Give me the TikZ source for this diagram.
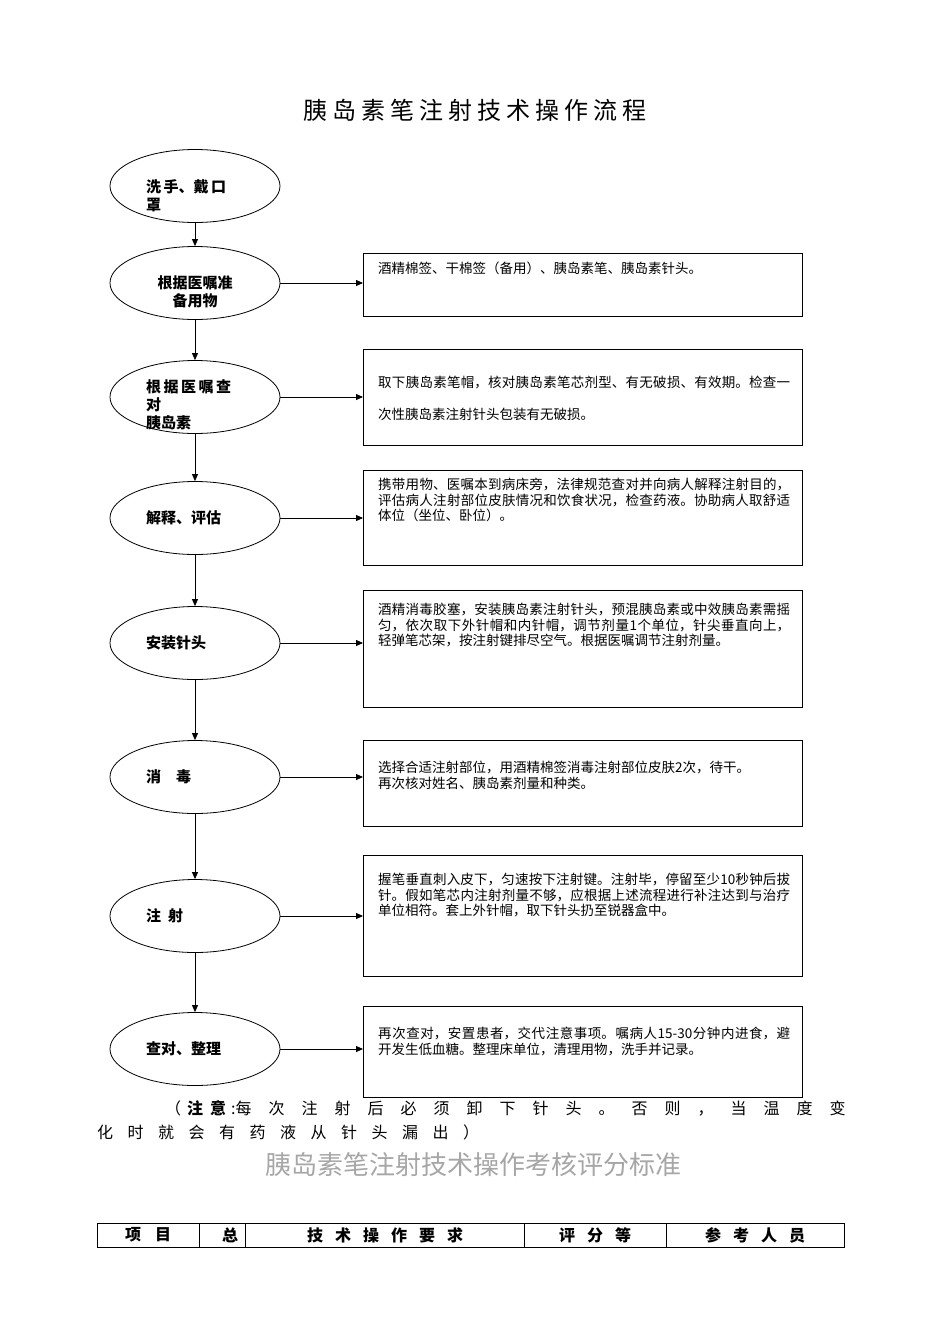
\documentclass[tikz,border=0pt]{standalone}
\usepackage{fontspec}
\setmainfont{Noto Sans CJK SC}
\XeTeXlinebreaklocale "zh"
\XeTeXlinebreakskip=0pt plus 1pt
\newcommand\cjkb{\bfseries}
\newcommand\cjkl{\mdseries}
\usetikzlibrary{arrows.meta,shapes.geometric}
\begin{document}
\begin{tikzpicture}[x=1pt,y=-1pt,
  el/.style={draw,ellipse,minimum width=170pt,minimum height=73pt,line width=0.8pt},
  bx/.style={draw,line width=0.8pt,anchor=north west},
  txt/.style={anchor=north west,align=justify,font=\cjkl\fontsize{13.5}{15.5}\selectfont,text width=412pt,inner sep=0},
  lab/.style={font=\cjkb\fontsize{15}{18}\selectfont,align=left,inner sep=0},
  arr/.style={-{Triangle[length=7pt,width=6pt]},line width=0.8pt}]
\useasboundingbox (0,0) rectangle (950,1344);
\node[font=\fontsize{24}{28}\selectfont] (title) at (475,110) {胰\hspace{5pt}岛\hspace{5pt}素\hspace{5pt}笔\hspace{5pt}注\hspace{5pt}射\hspace{5pt}技\hspace{5pt}术\hspace{5pt}操\hspace{5pt}作\hspace{5pt}流\hspace{5pt}程};
\foreach \n/\y in {1/186,2/283,3/397,4/518,5/643,6/777,7/916,8/1049}{
  \node[el] (e\n) at (195,\y) {};}
\node[lab,anchor=west] at (146,196) {洗\,手、戴\,口\\罩};
\node[lab,align=center] at (195,292) {根据医嘱准\\备用物};
\node[lab,anchor=west] at (146,405) {根\,据\,医\,嘱\,查\\对\\胰岛素};
\node[lab,anchor=west] at (146,518) {解释、评估};
\node[lab,anchor=west] at (146,643) {安装针头};
\node[lab,anchor=west] at (146,777) {消\quad 毒};
\node[lab,anchor=west] at (146,916) {注\ \ 射};
\node[lab,anchor=west] at (146,1049) {查对、整理};
\foreach \a/\b in {1/2,2/3,3/4,4/5,5/6,6/7,7/8}{\draw[arr] (e\a) -- (e\b);}
\foreach \n/\t/\h in {1/253/63,2/349/96,3/470/95,4/590/117,5/740/86,6/855/121,7/1006/91}{
  \node[bx,minimum width=439pt,minimum height=\h pt] (b\n) at (363,\t) {};}
\foreach \e/\b in {2/1,3/2,4/3,5/4,6/5,7/6,8/7}{
  \draw[arr] (e\e.east) -- (e\e.east -| b\b.west);}
\node[txt] at (378,262) {酒精棉签、干棉签（备用）、胰岛素笔、胰岛素针头。};
\node[txt,font=\cjkl\fontsize{13.5}{32}\selectfont] at (378,376) {取下胰岛素笔帽，核对胰岛素笔芯剂型、有无破损、有效期。检查一次性胰岛素注射针头包装有无破损。};
\node[txt] at (378,478) {携带用物、医嘱本到病床旁，法律规范查对并向病人解释注射目的，评估病人注射部位皮肤情况和饮食状况，检查药液。协助病人取舒适体位（坐位、卧位）。};
\node[txt] at (378,603) {酒精消毒胶塞，安装胰岛素注射针头，预混胰岛素或中效胰岛素需摇匀，依次取下外针帽和内针帽，调节剂量1个单位，针尖垂直向上，轻弹笔芯架，按注射键排尽空气。根据医嘱调节注射剂量。};
\node[txt] at (378,761) {选择合适注射部位，用酒精棉签消毒注射部位皮肤2次，待干。\\再次核对姓名、胰岛素剂量和种类。};
\node[txt] at (378,873) {握笔垂直刺入皮下，匀速按下注射键。注射毕，停留至少10秒钟后拔针。假如笔芯内注射剂量不够，应根据上述流程进行补注达到与治疗单位相符。套上外针帽，取下针头扔至锐器盒中。};
\node[txt] at (378,1027) {再次查对，安置患者，交代注意事项。嘱病人15-30分钟内进食，避开发生低血糖。整理床单位，清理用物，洗手并记录。};
\node[anchor=west,inner sep=0,font=\fontsize{16}{18}\selectfont] (n1) at (165,1108) {（\hspace{6pt}{\cjkb 注\hspace{7pt}意}\hspace{5pt}:每\hspace{17pt}次\hspace{17pt}注\hspace{17pt}射\hspace{17pt}后\hspace{17pt}必\hspace{17pt}须\hspace{17pt}卸\hspace{17pt}下\hspace{17pt}针\hspace{17pt}头\hspace{17pt}。\hspace{17pt}否\hspace{17pt}则\hspace{17pt}，\hspace{17pt}当\hspace{17pt}温\hspace{17pt}度\hspace{17pt}变};
\node[anchor=west,inner sep=0,font=\fontsize{16}{18}\selectfont] (n2) at (97,1132) {化\hspace{14.5pt}时\hspace{14.5pt}就\hspace{14.5pt}会\hspace{14.5pt}有\hspace{14.5pt}药\hspace{14.5pt}液\hspace{14.5pt}从\hspace{14.5pt}针\hspace{14.5pt}头\hspace{14.5pt}漏\hspace{14.5pt}出\hspace{14.5pt}）};
\node[font=\cjkl\fontsize{26}{30}\selectfont,text=gray!70] (sub) at (473,1165) {胰岛素笔注射技术操作考核评分标准};
\draw[line width=0.8pt] (97,1223) rectangle (844,1247);
\foreach \x in {199,245,524,666}{\draw[line width=0.8pt] (\x,1223) -- (\x,1247);}
\foreach \x/\t in {148/项\hspace{14pt}目,230/总,385/技\hspace{12pt}术\hspace{12pt}操\hspace{12pt}作\hspace{12pt}要\hspace{12pt}求,595/评\hspace{12pt}分\hspace{12pt}等,755/参\hspace{12pt}考\hspace{12pt}人\hspace{12pt}员}{
  \node[font=\cjkb\fontsize{16}{18}\selectfont] at (\x,1235) {\t};}
\end{tikzpicture}
\end{document}
